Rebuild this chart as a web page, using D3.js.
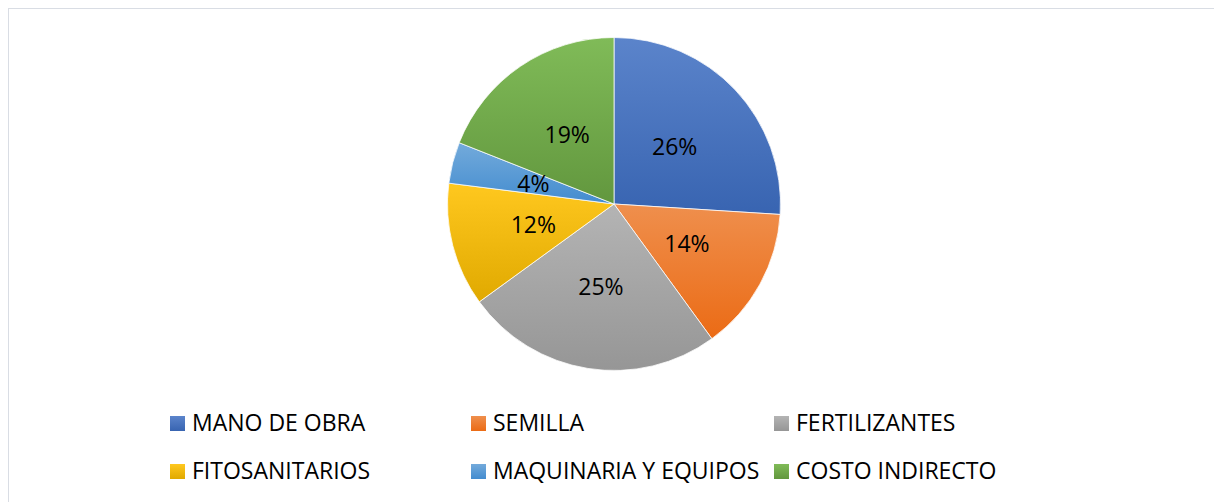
<!DOCTYPE html>
<html lang="es">
<head>
<meta charset="UTF-8">
<title>Costos</title>
<script src="https://cdn.jsdelivr.net/npm/d3@7/dist/d3.min.js"></script>
<style>
  body { margin: 0; background: #fff; }
  svg text { font-family: "Open Sans", "Noto Sans", sans-serif; fill: #000; }
</style>
</head>
<body>
<div id="chart"></div>
<script>
// data
var categories = ["MANO DE OBRA", "SEMILLA", "FERTILIZANTES", "FITOSANITARIOS", "MAQUINARIA Y EQUIPOS", "COSTO INDIRECTO"];
var values = [26, 14, 25, 12, 4, 19];
var colors = ["#4472C4", "#ED7D31", "#A5A5A5", "#FFC000", "#5B9BD5", "#70AD47"];

var width = 1214, height = 502;
var cx = 614, cy = 204, radius = 166.5;

var svg = d3.select("#chart").append("svg")
    .attr("width", width)
    .attr("height", height);

// chart area border (only top and left visible)
svg.append("rect")
    .attr("x", 8.5).attr("y", 8.5)
    .attr("width", 1220).attr("height", 520)
    .style("fill", "none")
    .style("stroke", "#d9dde4")
    .style("stroke-width", 1);

// gradients, lighter on top and darker at the bottom of each slice
function shift(c, dl) {
    var h = d3.hsl(c);
    h.l = Math.max(0, Math.min(1, h.l + dl));
    return h.formatHex();
}
var defs = svg.append("defs");
colors.forEach(function(c, i) {
    var g = defs.append("linearGradient")
        .attr("id", "grad" + i)
        .attr("x1", 0).attr("y1", 0).attr("x2", 0).attr("y2", 1);
    g.append("stop").attr("offset", "0%").attr("stop-color", shift(c, 0.06));
    g.append("stop").attr("offset", "100%").attr("stop-color", shift(c, -0.06));
});

var pie = d3.pie().sort(null).value(function(d) { return d; });
var arc = d3.arc().innerRadius(0).outerRadius(radius);
var labelArc = d3.arc().innerRadius(radius * 0.5).outerRadius(radius * 0.5);

var total = d3.sum(values);
var arcs = pie(values);

var g = svg.append("g").attr("transform", "translate(" + cx + "," + cy + ")");

g.selectAll(".slice")
    .data(arcs)
    .enter().append("path")
    .attr("class", "slice")
    .attr("d", arc)
    .style("fill", function(d, i) { return "url(#grad" + i + ")"; })
    .style("stroke", "#fff")
    .style("stroke-width", 0.75);

g.selectAll(".lbl")
    .data(arcs)
    .enter().append("text")
    .attr("class", "lbl")
    .attr("transform", function(d) { return "translate(" + labelArc.centroid(d) + ")"; })
    .attr("text-anchor", "middle")
    .attr("dy", "0.36em")
    .style("font-size", "23px")
    .text(function(d) { return Math.round(d.value / total * 100) + "%"; });

// legend, 3 columns x 2 rows
var colX = [170, 471, 774];
var rowY = [431, 479];
var legend = svg.selectAll(".legend")
    .data(categories)
    .enter().append("g")
    .attr("class", "legend")
    .attr("transform", function(d, i) {
        return "translate(" + colX[i % 3] + "," + rowY[Math.floor(i / 3)] + ")";
    });

legend.append("rect")
    .attr("x", 0).attr("y", -15)
    .attr("width", 15).attr("height", 15)
    .style("fill", function(d, i) { return "url(#grad" + i + ")"; });

legend.append("text")
    .attr("x", 22).attr("y", 0)
    .style("font-size", "23px")
    .text(function(d) { return d; });
</script>
</body>
</html>
